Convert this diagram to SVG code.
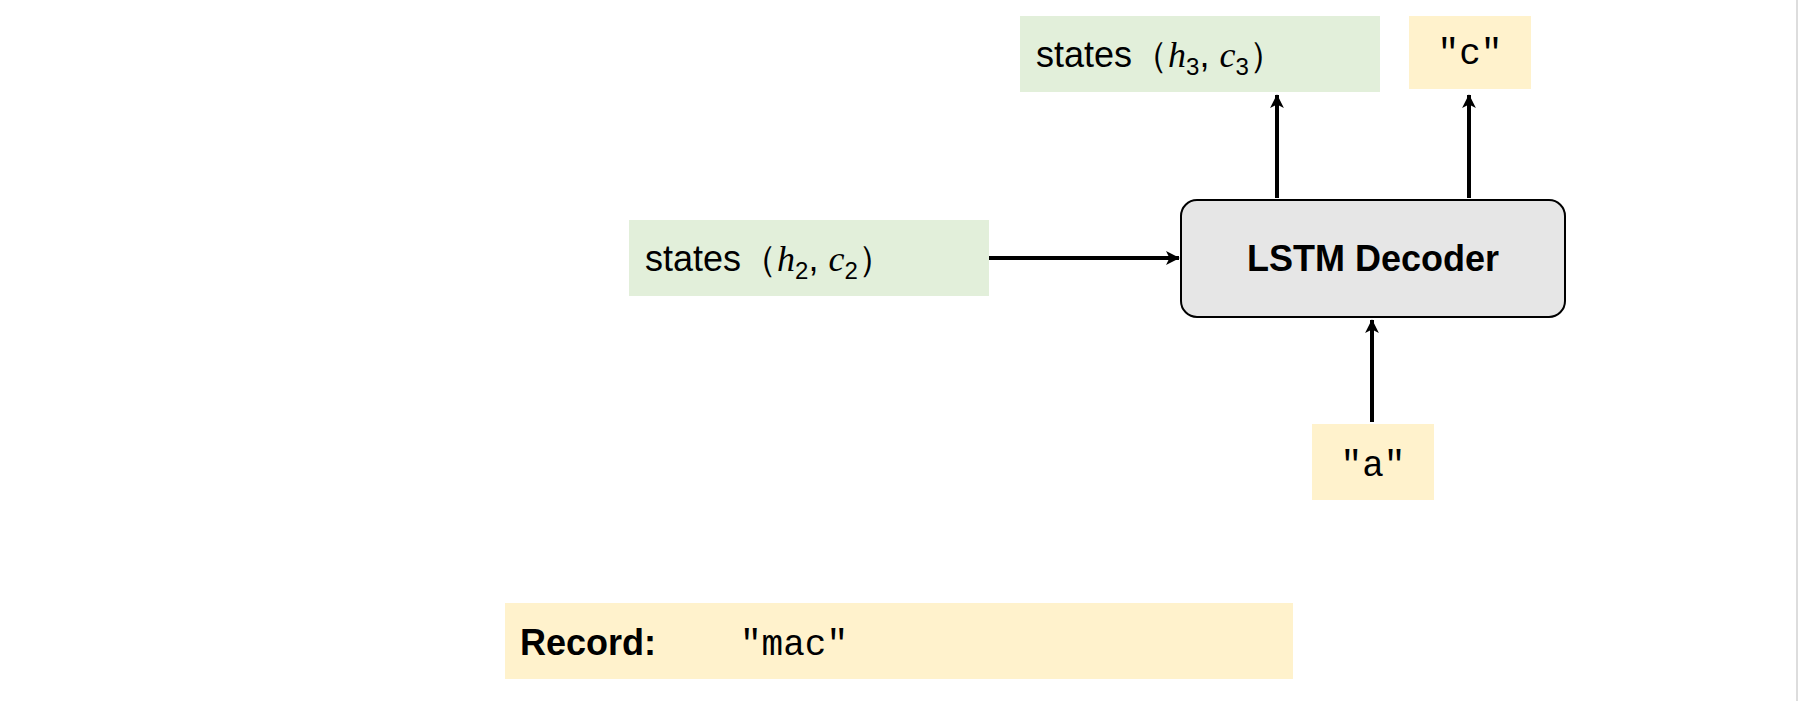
<svg xmlns="http://www.w3.org/2000/svg" width="1799" height="701" viewBox="0 0 1799 701">
<style>
.g{fill:#e2efda}.y{fill:#fff2cc}
.t{font-family:"Liberation Sans",Arial,sans-serif;font-size:36px;fill:#000}
.m{font-family:"Liberation Serif",serif;font-style:italic}
.mo{font-family:"Liberation Mono",monospace;font-size:36px;fill:#000}
.c{stroke:#000;stroke-width:4;fill:none;marker-end:url(#a)}
</style>
<defs><marker id="a" viewBox="0 0 12 12" refX="11" refY="6" markerWidth="6" markerHeight="6" orient="auto" markerUnits="userSpaceOnUse" style="overflow:visible"><path d="M0,0 L12,6 L0,12 L3,6 Z" transform="scale(2.3) translate(-6.5,-3.4)" fill="#000"/></marker></defs>
<rect width="1799" height="701" fill="#fff"/>
<line x1="1797" y1="0" x2="1797" y2="701" stroke="#ddd" stroke-width="2"/>
<g id="connectors">
<line class="c" x1="989" y1="258" x2="1179" y2="258"/>
<line class="c" x1="1277" y1="198" x2="1277" y2="95"/>
<line class="c" x1="1469" y1="198" x2="1469" y2="95"/>
<line class="c" x1="1372" y1="422" x2="1372" y2="320"/>
</g>
<g id="states3"><rect class="g" x="1020" y="16" width="360" height="76"/>
<text class="t" x="1036" y="67">states（<tspan class="m">h</tspan><tspan font-size="24" dy="8">3</tspan><tspan dy="-8">, </tspan><tspan class="m">c</tspan><tspan font-size="24" dy="8">3</tspan><tspan dy="-8">）</tspan></text></g>
<g id="outc"><rect class="y" x="1409" y="16" width="122" height="73"/>
<text class="mo" x="1470" y="64" text-anchor="middle">"c"</text></g>
<g id="decoder"><rect x="1181" y="200" width="384" height="117" rx="16" fill="#e6e6e6" stroke="#000" stroke-width="2"/>
<text class="t" x="1373" y="271" text-anchor="middle" font-weight="bold">LSTM Decoder</text></g>
<g id="states2"><rect class="g" x="629" y="220" width="360" height="76"/>
<text class="t" x="645" y="271">states（<tspan class="m">h</tspan><tspan font-size="24" dy="8">2</tspan><tspan dy="-8">, </tspan><tspan class="m">c</tspan><tspan font-size="24" dy="8">2</tspan><tspan dy="-8">）</tspan></text></g>
<g id="ina"><rect class="y" x="1312" y="424" width="122" height="76"/>
<text class="mo" x="1373" y="476" text-anchor="middle">"a"</text></g>
<g id="record"><rect class="y" x="505" y="603" width="788" height="76"/>
<text class="t" x="520" y="655" font-weight="bold">Record:</text>
<text class="mo" x="740" y="655">"mac"</text></g>
</svg>
